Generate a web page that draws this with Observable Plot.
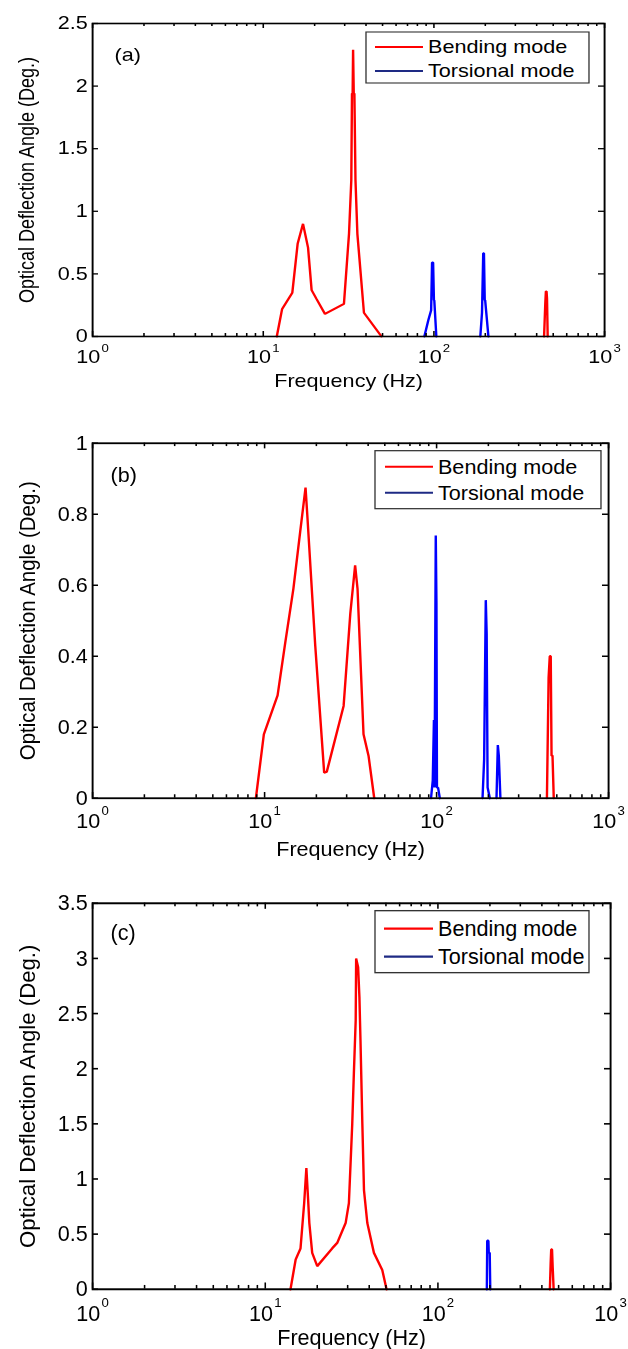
<!DOCTYPE html>
<html><head><meta charset="utf-8">
<script src="https://cdn.jsdelivr.net/npm/d3@7"></script>
<script src="https://cdn.jsdelivr.net/npm/@observablehq/plot@0.6"></script>
<style>
html,body{margin:0;padding:0;background:#fff;}
#root{position:relative;width:628px;height:1349px;overflow:hidden;background:#fff;}
.panel{position:absolute;left:0;transform-origin:0 0;}
</style></head><body><div id="root"></div>
<script>
// ---------- data ----------
const seriesNames = ["Bending mode", "Torsional mode"];
const panelTags = ["(a)", "(b)", "(c)"];
const xLabel = "Frequency (Hz)";
const yLabel = "Optical Deflection Angle (Deg.)";
const xMajorTicks = [1, 10, 100, 1000];
const xMinorTicks = [2,3,4,5,6,7,8,9,20,30,40,50,60,70,80,90,200,300,400,500,600,700,800,900];

// panel (a)
const aYTicks = [0, 0.5, 1, 1.5, 2, 2.5];
const aYMax = 2.5;
const aBendF = [12.0, 12.9, 14.8, 15.9, 17.1, 18.3, 19.2, 20.5, 23.0, 29.7, 31.8, 32.8, 33.1, 33.4, 33.6, 33.9, 34.2, 34.7, 35.6, 38.9, 49.3, null, 442, 449.5, 453, 457, 460, 464];
const aBendV = [0, 0.22, 0.35, 0.74, 0.90, 0.71, 0.37, 0.30, 0.18, 0.26, 0.82, 1.25, 1.94, 1.94, 2.29, 1.94, 1.94, 1.25, 0.82, 0.19, 0, null, 0, 0.27, 0.36, 0.36, 0.30, 0];
const aTorsF = [87.9, 92.7, 96.3, 97.5, 98.9, 100.0, 100.5, 103.3, null, 187, 191.3, 194.5, 196.4, 198.5, 199.6, 208.6];
const aTorsV = [0, 0.13, 0.21, 0.59, 0.59, 0.29, 0.29, 0, null, 0, 0.19, 0.665, 0.665, 0.29, 0.29, 0];

// panel (b)
const bYTicks = [0, 0.2, 0.4, 0.6, 0.8, 1];
const bYMax = 1;
const bBendF = [8.9, 9.9, 11.9, 13.2, 14.7, 16.1, 17.3, 17.7, 19.7, 22.2, 23.0, 28.8, 31.5, 33.6, 34.7, 37.6, 40.2, 43.4, null, 438, 448, 455, 461, 466, 472, 480];
const bBendV = [0, 0.18, 0.29, 0.44, 0.59, 0.75, 0.875, 0.80, 0.43, 0.072, 0.075, 0.26, 0.52, 0.656, 0.59, 0.18, 0.12, 0, null, 0, 0.34, 0.40, 0.40, 0.12, 0.12, 0];
const bTorsF = [92.8, 95, 96.5, 97.3, 98.9, 99.8, 100.5, 102, 104.4, null, 185, 189, 193.2, 195.5, 198, 204, null, 223, 227, 230, 235];
const bTorsV = [0, 0.05, 0.22, 0.03, 0.74, 0.55, 0.03, 0.03, 0, null, 0, 0.11, 0.558, 0.463, 0.03, 0, null, 0, 0.15, 0.12, 0];

// panel (c)
const cYTicks = [0, 0.5, 1, 1.5, 2, 2.5, 3, 3.5];
const cYMax = 3.5;
const cBendF = [14.0, 15.0, 16.0, 16.8, 17.3, 17.7, 18.0, 18.7, 20.0, 24.4, 26.1, 29.2, 30.5, 31.9, 32.6, 33.4, 33.6, 34.5, 35.1, 35.6, 36.5, 37.3, 39.0, 42.6, 47.6, 50.4, null, 445, 450, 453, 458, 462, 468];
const cBendV = [0, 0.27, 0.37, 0.78, 1.10, 0.82, 0.60, 0.33, 0.21, 0.37, 0.42, 0.60, 0.78, 1.50, 1.96, 2.44, 3.00, 2.92, 2.65, 2.26, 1.50, 0.90, 0.60, 0.33, 0.175, 0, null, 0, 0.25, 0.36, 0.36, 0.20, 0];
const cTorsF = [192, 193, 196, 197, 199.5, 201];
const cTorsV = [0, 0.44, 0.44, 0.33, 0.33, 0];

const panelData = [
  {tag: panelTags[0], yTicks: aYTicks, yMax: aYMax, bendF: aBendF, bendV: aBendV, torsF: aTorsF, torsV: aTorsV},
  {tag: panelTags[1], yTicks: bYTicks, yMax: bYMax, bendF: bBendF, bendV: bBendV, torsF: bTorsF, torsV: bTorsV},
  {tag: panelTags[2], yTicks: cYTicks, yMax: cYMax, bendF: cBendF, bendV: cBendV, torsF: cTorsF, torsV: cTorsV}
];

// ---------- layout (page pixels) ----------
const SX = 1.2, W = 628, PAGE_H = 1349, MT = 20;
const layouts = [
  {frame: [92, 604, 23, 336], sy: 1.0, tag: [114, 55], xTickPad: 14, xLabOff: 38, yLabX: 26,
   legend: {box: [366, 589, 32, 83], line: [375, 423], text: 428, rows: [47, 71]}},
  {frame: [92, 608, 443, 798], sy: 355 / 313, tag: [110, 475], xTickPad: 15, xLabOff: 43, yLabX: 27,
   legend: {box: [375, 601, 451, 509], line: [385, 433], text: 438, rows: [467, 493]}},
  {frame: [92, 610, 903, 1289], sy: 386 / 313, tag: [110, 933], xTickPad: 15.5, xLabOff: 40, yLabX: 27,
   legend: {box: [375, 589, 911, 973], line: [384, 433], text: 438, rows: [929, 957]}}
];
const FONT = "'Liberation Sans', Arial, Helvetica, sans-serif";
const RED = "#ff0000", BLUE = "#0000ff", LEG_BLUE = "#1e2a84";
const MAJOR_LEN = 5, MINOR_LEN = 3;

const tops = layouts.map(L => L.frame[2] - MT * L.sy);
const root = document.getElementById("root");

function toRows(F, V) {
  return F.map((f, i) => ({f: f == null ? NaN : f, v: V[i] == null ? NaN : V[i]}));
}

layouts.forEach((L, p) => {
  const d = panelData[p];
  const sy = L.sy;
  const T = tops[p];
  const nextTop = p < layouts.length - 1 ? tops[p + 1] : PAGE_H;
  const innerH = (L.frame[3] - L.frame[2]) / sy;
  const Hu = (nextTop - T) / sy;
  const mb = Hu - MT - innerH;
  const Wu = W / SX;
  const ml = L.frame[0] / SX, mr = (W - L.frame[1]) / SX;
  const innerW = Wu - ml - mr;

  // inward ticks expressed through the scales (fraction of the domain per pixel)
  const yPx = len => d.yMax * len / innerH;
  const xPx = len => Math.pow(10, 3 * len / innerW);
  const xTicksIn = (vals, len) => [
    Plot.ruleX(vals, {x: v => v, y1: 0, y2: yPx(len), stroke: "black", strokeWidth: 1.3}),
    Plot.ruleX(vals, {x: v => v, y1: d.yMax, y2: d.yMax - yPx(len), stroke: "black", strokeWidth: 1.3})
  ];
  const yTicksIn = [
    Plot.ruleY(d.yTicks, {y: v => v, x1: 1, x2: xPx(MAJOR_LEN), stroke: "black", strokeWidth: 1.3}),
    Plot.ruleY(d.yTicks, {y: v => v, x1: 1000, x2: 1000 / xPx(MAJOR_LEN), stroke: "black", strokeWidth: 1.3})
  ];

  const svg = Plot.plot({
    width: Wu, height: Hu,
    marginLeft: ml, marginRight: mr, marginTop: MT, marginBottom: mb,
    style: {background: "transparent", color: "black", fontFamily: FONT, fontSize: "18px", overflow: "visible"},
    x: {type: "log", domain: [1, 1000], label: null},
    y: {domain: [0, d.yMax], label: null},
    marks: [
      Plot.line(toRows(d.bendF, d.bendV), {x: "f", y: "v", stroke: RED, strokeWidth: 2, strokeLinejoin: "miter"}),
      Plot.line(toRows(d.torsF, d.torsV), {x: "f", y: "v", stroke: BLUE, strokeWidth: 2, strokeLinejoin: "miter"}),
      ...xTicksIn(xMajorTicks, MAJOR_LEN),
      ...xTicksIn(xMinorTicks, MINOR_LEN),
      ...yTicksIn,
      Plot.frame({stroke: "black", strokeWidth: 1.6}),
      Plot.axisX({ticks: xMajorTicks, tickSize: 0, tickPadding: L.xTickPad / sy, label: null,
        tickFormat: v => String(Math.round(Math.log10(v))), fontSize: 18}),
      Plot.axisY({ticks: d.yTicks, tickSize: 0, tickPadding: 4, label: null,
        tickFormat: v => String(v), fontSize: 18}),
      Plot.text([xLabel], {frameAnchor: "bottom", dy: L.xLabOff / sy, lineAnchor: "top", fontSize: 18, text: t => t}),
      Plot.text([yLabel], {frameAnchor: "left", rotate: -90, dx: L.yLabX / SX - ml, lineAnchor: "middle",
        textAnchor: "middle", fontSize: 18, text: t => t}),
      Plot.text([d.tag], {frameAnchor: "top-left", dx: L.tag[0] / SX - ml, dy: (L.tag[1] - L.frame[2]) / sy,
        textAnchor: "start", lineAnchor: "middle", fontSize: 18, text: t => t})
    ]
  });

  // superscript exponents on x tick labels (10^k)
  d3.select(svg).selectAll('g[aria-label="x-axis tick label"] text').each(function () {
    const k = this.textContent;
    const s = d3.select(this);
    s.text(null);
    s.append("tspan").text("10");
    s.append("tspan").attr("font-size", "11px").attr("dy", "-1em").attr("dx", "1").text(k);
  });

  // legend
  const lg = L.legend;
  const g = d3.select(svg).append("g").attr("font-family", FONT).attr("font-size", 18).attr("text-anchor", "start");
  g.append("rect")
    .attr("x", lg.box[0] / SX).attr("y", (lg.box[2] - T) / sy)
    .attr("width", (lg.box[1] - lg.box[0]) / SX).attr("height", (lg.box[3] - lg.box[2]) / sy)
    .attr("fill", "white").attr("stroke", "#333").attr("stroke-width", 1.1);
  const legColors = [RED, LEG_BLUE];
  seriesNames.forEach((name, i) => {
    const yy = (lg.rows[i] - T) / sy;
    g.append("line").attr("x1", lg.line[0] / SX).attr("x2", lg.line[1] / SX)
      .attr("y1", yy).attr("y2", yy).attr("stroke", legColors[i]).attr("stroke-width", 1.8);
    g.append("text").attr("x", lg.text / SX).attr("y", yy).attr("dy", "0.35em")
      .attr("text-anchor", "start").attr("fill", "black").text(name);
  });

  const div = document.createElement("div");
  div.className = "panel";
  div.style.top = T + "px";
  div.style.width = Wu + "px";
  div.style.transform = `scale(${SX}, ${sy})`;
  div.appendChild(svg);
  root.appendChild(div);
});
</script>
</body></html>
